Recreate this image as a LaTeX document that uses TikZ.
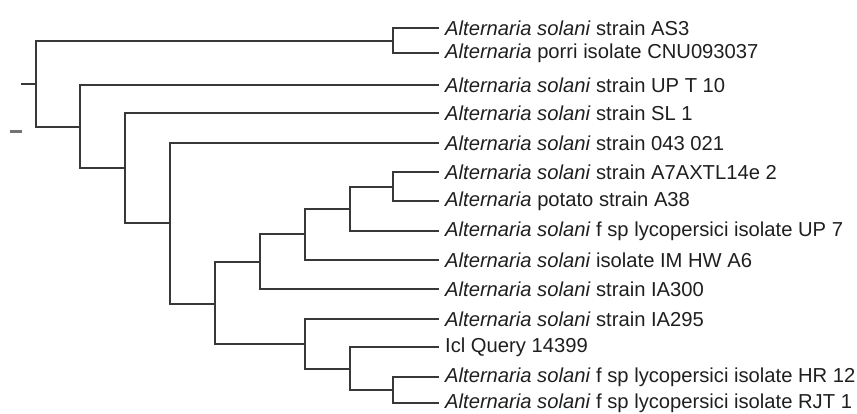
\documentclass[tikz,border=0pt]{standalone}
\usepackage{fontspec}
\setmainfont{Liberation Sans}
\usetikzlibrary{positioning}
\newcommand{\Alt}{\textit{Alternaria}}
\newcommand{\Asol}{\textit{Alternaria solani}}

\begin{document}
\begin{tikzpicture}[x=1pt,y=-1pt,
  branch/.style={draw=black!78,line width=1.7pt,line cap=rect},
  leaf/.style={anchor=west,inner xsep=7pt,inner ysep=0pt,text=black!88,
    font=\fontsize{20.2}{21}\selectfont}]
\useasboundingbox (0,0) rectangle (857,413);
% leaves
\node[leaf] (as3)  at (438,28)  {\Asol{} strain AS3};
\node[leaf] (porr) at (438,53)  {\Alt{} porri isolate CNU093037};
\node[leaf] (upt)  at (438,85)  {\Asol{} strain UP T 10};
\node[leaf] (sl)   at (438,113) {\Asol{} strain SL 1};
\node[leaf] (s043) at (438,143) {\Asol{} strain 043 021};
\node[leaf] (a7ax) at (438,172) {\Asol{} strain A7AXTL14e 2};
\node[leaf] (a38)  at (438,201) {\Alt{} potato strain A38};
\node[leaf] (up7)  at (438,231) {\Asol{} f sp lycopersici isolate UP 7};
\node[leaf] (imhw) at (438,260) {\Asol{} isolate IM HW A6};
\node[leaf] (ia300) at (438,289) {\Asol{} strain IA300};
\node[leaf] (ia295) at (438,319) {\Asol{} strain IA295};
\node[leaf] (icl)  at (438,347) {Icl Query 14399};
\node[leaf] (hr)   at (438,377) {\Asol{} f sp lycopersici isolate HR 12};
\node[leaf] (rjt)  at (438,403) {\Asol{} f sp lycopersici isolate RJT 1};
% inner nodes
\coordinate (root) at (36,84);
\coordinate (n0)  at (393,41);
\coordinate (n1)  at (80,127);
\coordinate (n2)  at (125,168);
\coordinate (n3)  at (170,223);
\coordinate (n4)  at (215,304);
\coordinate (n5)  at (260,262);
\coordinate (n6)  at (305,234);
\coordinate (n7)  at (350,209);
\coordinate (n8)  at (393,187);
\coordinate (n9)  at (305,344);
\coordinate (n10) at (350,369);
\coordinate (n11) at (393,390);
\coordinate (stem) at (22,84);
% branches
\draw[branch] (stem) -- (root);
\draw[branch] (root) |- (n0) (root) |- (n1);
\draw[branch] (n0) |- (as3.west) (n0) |- (porr.west);
\draw[branch] (n1) |- (upt.west) (n1) |- (n2);
\draw[branch] (n2) |- (sl.west) (n2) |- (n3);
\draw[branch] (n3) |- (s043.west) (n3) |- (n4);
\draw[branch] (n4) |- (n5) (n4) |- (n9);
\draw[branch] (n5) |- (n6) (n5) |- (ia300.west);
\draw[branch] (n6) |- (n7) (n6) |- (imhw.west);
\draw[branch] (n7) |- (n8) (n7) |- (up7.west);
\draw[branch] (n8) |- (a7ax.west) (n8) |- (a38.west);
\draw[branch] (n9) |- (ia295.west) (n9) |- (n10);
\draw[branch] (n10) |- (icl.west) (n10) |- (n11);
\draw[branch] (n11) |- (hr.west) (n11) |- (rjt.west);
% scale mark
\draw[draw=black!55,line width=3pt] (10,131) -- (22,131);
\end{tikzpicture}
\end{document}
